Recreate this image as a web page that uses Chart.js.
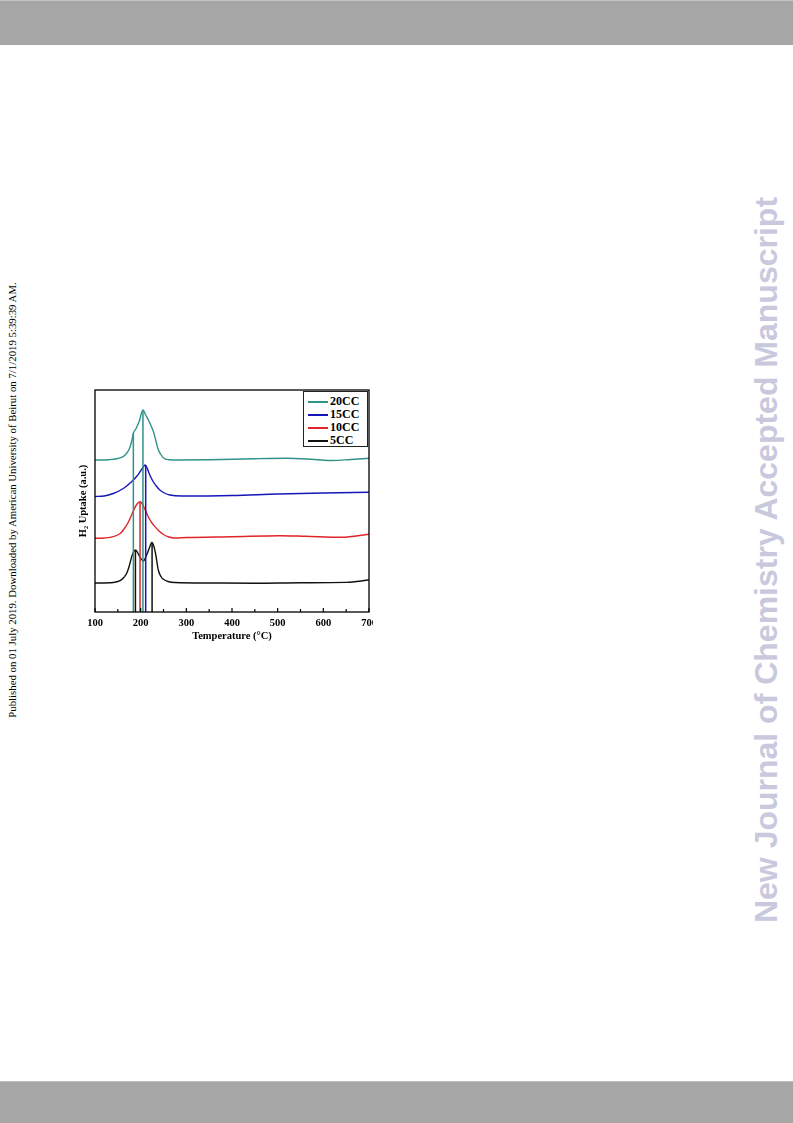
<!DOCTYPE html>
<html>
<head>
<meta charset="utf-8">
<script src="https://cdn.jsdelivr.net/npm/chart.js@4.4.0/dist/chart.umd.min.js"></script>
<style>
  body { margin: 0; width: 793px; height: 1123px; position: relative; background: #fff; overflow: hidden; }
  .band { position: absolute; left: 0; width: 793px; background: #a6a6a6; }
  #top { top: 0; height: 45px; border-top: 1px solid #c4c4c4; box-sizing: border-box; }
  #bottom { top: 1081px; height: 42px; border-top: 1px solid #bcbcbc; box-sizing: border-box; }
  .side { position: absolute; white-space: nowrap; transform: translate(-50%, -50%) rotate(-90deg); }
  #pub { left: 12px; top: 500px; font: 10.8px "Liberation Serif", serif; color: #000; }
  #journal { left: 766px; top: 560px; font: bold 32px "Liberation Sans", Arial, sans-serif; color: #c9c9de; }
  #wrap { position: absolute; left: 60px; top: 385px; width: 313px; height: 265px; }
  #legend { position: absolute; left: 303px; top: 391px; width: 65px; height: 56px; box-sizing: border-box;
            border: 1px solid #222; background: #fff; padding-top: 3px; font: bold 12px "Liberation Serif", serif; }
  .row { display: flex; align-items: center; height: 13px; }
  .sample { width: 20px; height: 2px; margin-left: 4px; margin-right: 2px; }
</style>
</head>
<body>
<div class="band" id="top"></div>
<div class="band" id="bottom"></div>
<div class="side" id="pub">Published on 01 July 2019. Downloaded by American University of Beirut on 7/1/2019 5:39:39 AM.</div>
<div class="side" id="journal">New Journal of Chemistry Accepted Manuscript</div>
<div id="wrap"><canvas id="tpr"></canvas></div>
<div id="legend"></div>
<script>
// H2-TPR profiles, values (arbitrary units, offset traces)
var seriesNames = ["20CC", "15CC", "10CC", "5CC"];
var seriesColors = ["#2f9389", "#1616b8", "#e02428", "#111111"];

var temps20 = [100, 130, 150, 165, 175, 181, 184, 190, 197, 205, 211, 217, 223, 228, 234, 238, 245, 250, 262, 280, 350, 450, 520, 580, 620, 660, 700];
var uptake20 = [152, 152.3, 153.5, 156.5, 163, 172, 178.7, 183.5, 191, 202, 197, 192, 186, 180.3, 170, 163, 157, 154, 152.3, 152, 152.3, 153.3, 153.7, 152.5, 151.5, 152.5, 153.7];

var temps15 = [100, 120, 140, 162, 180, 192, 199, 205, 209.5, 213, 217, 222, 228, 235, 242, 252, 264, 290, 400, 500, 600, 700];
var uptake15 = [115.5, 116, 118.5, 123.5, 130.3, 136, 140.5, 144.5, 147, 145, 140.5, 135, 130, 125.5, 122, 119, 117, 116, 116.5, 118, 119, 119.7];

var temps10 = [100, 120, 140, 155, 162, 172, 180, 186, 192, 198.6, 203, 208, 216.7, 224, 231, 240, 250, 262, 275, 300, 400, 505, 560, 640, 700];
var uptake10 = [73.7, 74, 75.3, 78.5, 82, 89, 97, 103, 108, 110.3, 108.5, 104, 95.3, 89.5, 85.5, 81, 77.5, 75, 74, 74.5, 75.3, 76.3, 75.7, 74.7, 77.7];

var temps5 = [100, 140, 155, 163, 169.4, 175, 180.3, 185, 189, 193, 200, 206, 213, 219, 224.5, 229, 233, 238.6, 245, 250, 260, 275, 350, 450, 550, 650, 700];
var uptake5 = [29, 29.5, 31.3, 34.5, 38.7, 46, 55.3, 60.5, 62, 59.5, 53.7, 51, 57, 64, 69.5, 65.5, 57.5, 42, 35, 32.7, 30.5, 29.5, 29, 28.8, 29.3, 29.6, 32];

// peak position markers (vertical drop lines)
var peakTemps20 = [184, 205], peakTops20 = [178.7, 202];
var peakTemps15 = [211], peakTops15 = [146.5];
var peakTemps10 = [198.6], peakTops10 = [110.3];
var peakTemps5 = [188.5, 225], peakTops5 = [61.8, 69.3];

var xTicks = [100, 200, 300, 400, 500, 600, 700];

var allTemps = [temps20, temps15, temps10, temps5];
var allUptake = [uptake20, uptake15, uptake10, uptake5];
var allPeakT = [peakTemps20, peakTemps15, peakTemps10, peakTemps5];
var allPeakV = [peakTops20, peakTops15, peakTops10, peakTops5];

function toPoints(xs, ys) {
  return xs.map(function (x, i) { return { x: x, y: ys[i] }; });
}

var datasets = [];
seriesNames.forEach(function (name, s) {
  datasets.push({
    label: name,
    data: toPoints(allTemps[s], allUptake[s]),
    borderColor: seriesColors[s],
    borderWidth: 1.4,
    pointRadius: 0,
    cubicInterpolationMode: "monotone",
    tension: 0.4,
  });
  allPeakT[s].forEach(function (t, k) {
    datasets.push({
      label: name + " peak",
      data: [{ x: t, y: 0 }, { x: t, y: allPeakV[s][k] }],
      borderColor: seriesColors[s],
      borderWidth: 1.5,
      pointRadius: 0,
      tension: 0,
    });
  });
});

// frame + inward tick marks
var framePlugin = {
  id: "frame",
  afterDraw: function (chart) {
    var ctx = chart.ctx;
    var a = chart.chartArea;
    var xs = chart.scales.x;
    ctx.save();
    ctx.strokeStyle = "#000";
    ctx.lineWidth = 1.3;
    ctx.strokeRect(a.left, a.top, a.right - a.left, a.bottom - a.top);
    ctx.lineWidth = 1.2;
    xs.ticks.forEach(function (t) {
      var px = xs.getPixelForValue(t.value);
      var len = xTicks.indexOf(t.value) >= 0 ? 4 : 3;
      ctx.beginPath();
      ctx.moveTo(px, a.bottom);
      ctx.lineTo(px, a.bottom - len);
      ctx.stroke();
    });
    ctx.restore();
  },
};

new Chart("tpr", {
  type: "line",
  data: { datasets: datasets },
  plugins: [framePlugin],
  options: {
    responsive: true,
    maintainAspectRatio: false,
    animation: false,
    layout: { padding: { top: 5, right: 4, left: 0, bottom: 0 } },
    plugins: { legend: { display: false }, tooltip: { enabled: false } },
    scales: {
      x: {
        type: "linear",
        min: 100,
        max: 700,
        grid: { display: false, drawTicks: false },
        border: { display: false },
        ticks: {
          stepSize: 50,
          autoSkip: false,
          maxRotation: 0,
          padding: 5,
          color: "#000",
          font: { family: "Liberation Serif", size: 10.5, weight: "bold" },
          callback: function (v) { return xTicks.indexOf(v) >= 0 ? String(v) : ""; },
        },
        title: {
          display: true,
          text: "Temperature (°C)",
          color: "#000",
          padding: { top: 0, bottom: 7.7 },
          font: { family: "Liberation Serif", size: 10.5, weight: "bold" },
        },
        afterFit: function (scale) {
          scale.height = 38;
          scale.paddingLeft = 0;
          scale.paddingRight = 0;
        },
      },
      y: {
        min: 0,
        max: 222,
        grid: { display: false, drawTicks: false },
        border: { display: false },
        ticks: { display: false },
        title: {
          display: true,
          text: "H₂ Uptake (a.u.)",
          color: "#000",
          padding: { top: 16.7, bottom: 0 },
          font: { family: "Liberation Serif", size: 10.5, weight: "bold" },
        },
        afterFit: function (scale) { scale.width = 35; },
      },
    },
  },
});

// legend box inside the plot, top right
var legend = document.getElementById("legend");
seriesNames.forEach(function (name, s) {
  var row = document.createElement("div");
  row.className = "row";
  var line = document.createElement("span");
  line.className = "sample";
  line.style.background = seriesColors[s];
  var txt = document.createElement("span");
  txt.textContent = name;
  row.appendChild(line);
  row.appendChild(txt);
  legend.appendChild(row);
});
</script>
</body>
</html>
